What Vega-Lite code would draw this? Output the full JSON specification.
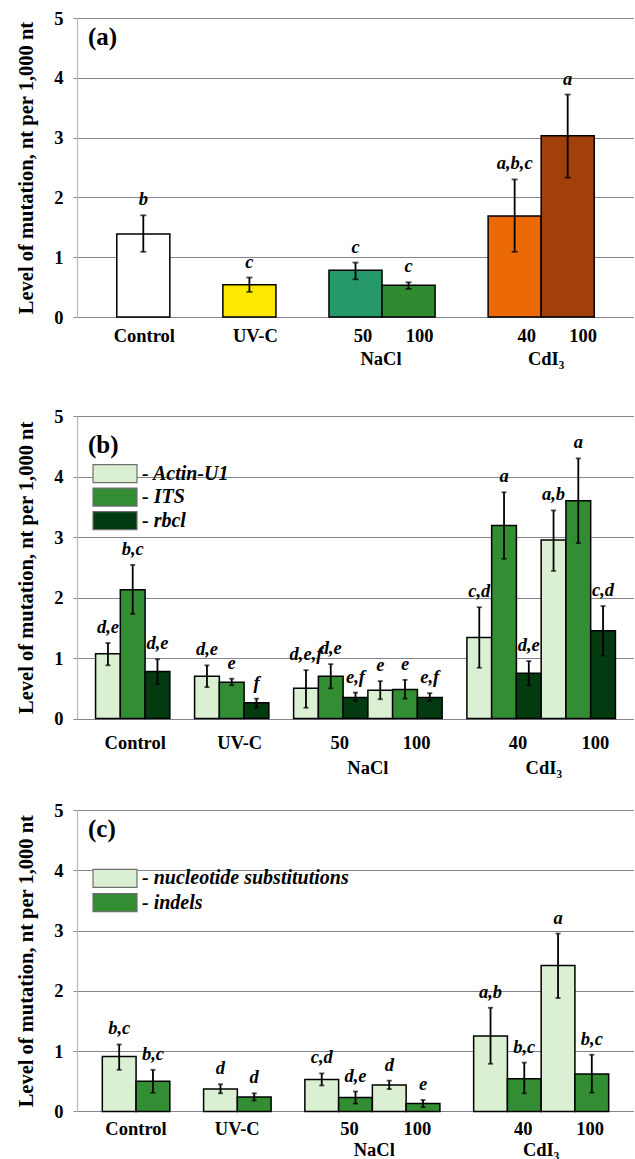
{
  "$schema": "https://vega.github.io/schema/vega-lite/v6.json",
  "padding": {"left": 16, "top": 9, "right": 0, "bottom": 0},
  "spacing": 39,
  "resolve": {"scale": {"fill": "independent"}},
  "config": {
    "font": "Liberation Serif",
    "view": {"stroke": null},
    "axis": {
      "labelFont": "Liberation Serif",
      "titleFont": "Liberation Serif",
      "labelColor": "black",
      "titleColor": "black",
      "labelFontWeight": "bold",
      "titleFontWeight": "bold"
    },
    "axisY": {
      "grid": true,
      "gridColor": "#85858f",
      "gridWidth": 1,
      "domainColor": "#b8b8c0",
      "domainWidth": 1.2,
      "tickColor": "#85858f",
      "tickSize": 4,
      "labelFontSize": 18.5,
      "labelPadding": 10,
      "labelFlush": false,
      "titleFontSize": 20.5,
      "titlePadding": 17
    },
    "axisX": {
      "grid": false,
      "domain": false,
      "ticks": false,
      "tickSize": 0,
      "labelAngle": 0,
      "labelFontSize": 18.5,
      "labelOverlap": false,
      "labelLimit": 0
    },
    "title": {
      "font": "Liberation Serif",
      "fontSize": 25,
      "fontWeight": "bold",
      "color": "black",
      "anchor": "start",
      "frame": "group",
      "orient": "top",
      "baseline": "top",
      "dx": 11
    },
    "legend": {
      "orient": "none",
      "title": null,
      "padding": 0,
      "symbolType": "M-2.2,-0.9H2.2V0.9H-2.2Z",
      "symbolSize": 400,
      "symbolStrokeColor": "#6f6f6f",
      "symbolStrokeWidth": 1.2,
      "symbolOpacity": 1,
      "labelFont": "Liberation Serif",
      "labelFontSize": 20,
      "labelFontStyle": "italic",
      "labelFontWeight": "bold",
      "labelColor": "black",
      "labelOffset": 16,
      "labelLimit": 0
    }
  },
  "vconcat": [
    {
      "title": {"text": "(a)", "offset": -41},
      "width": 557,
      "height": 299,
      "data": {
        "values": [
          {"treatment": "Control", "value": 1.39, "lo": 1.09, "hi": 1.70, "letters": "b"},
          {"treatment": "UV-C", "value": 0.54, "lo": 0.42, "hi": 0.66, "letters": "c"},
          {"treatment": "NaCl 50", "value": 0.78, "lo": 0.63, "hi": 0.91, "letters": "c"},
          {"treatment": "NaCl 100", "value": 0.53, "lo": 0.47, "hi": 0.58, "letters": "c"},
          {"treatment": "CdI₃ 40", "value": 1.69, "lo": 1.09, "hi": 2.30, "letters": "a,b,c"},
          {"treatment": "CdI₃ 100", "value": 3.03, "lo": 2.33, "hi": 3.72, "letters": "a"}
        ]
      },
      "resolve": {"axis": {"x": "independent", "y": "independent"}},
      "layer": [
        {
          "mark": {"type": "bar", "stroke": "black", "strokeWidth": 1.5},
          "encoding": {
            "x": {
              "field": "treatment",
              "type": "nominal",
              "scale": {
                "domain": ["Control", "gap1", "UV-C", "gap2", "NaCl 50", "NaCl 100", "gap3", "CdI₃ 40", "CdI₃ 100"],
                "paddingInner": 0,
                "paddingOuter": 0.75
              },
              "axis": {
                "title": null,
                "labelPadding": 9,
                "labelExpr": "datum.value == 'Control' || datum.value == 'UV-C' ? datum.value : (indexof(datum.value, ' ') > 0 ? split(datum.value, ' ')[1] : '')",
                "labelOffset": {
                  "condition": [
                    {"test": "datum.value == 'UV-C'", "value": 6},
                    {"test": "datum.value == 'NaCl 50'", "value": 7.5},
                    {"test": "datum.value == 'NaCl 100'", "value": 11},
                    {"test": "datum.value == 'CdI₃ 40'", "value": 12},
                    {"test": "datum.value == 'CdI₃ 100'", "value": 15.5}
                  ],
                  "value": 1
                }
              }
            },
            "y": {
              "field": "value",
              "type": "quantitative",
              "scale": {"domain": [0, 5], "nice": false},
              "axis": {"title": "Level of mutation, nt per 1,000 nt", "values": [0, 1, 2, 3, 4, 5], "format": "d"}
            },
            "fill": {
              "field": "treatment",
              "type": "nominal",
              "scale": {
                "domain": ["Control", "UV-C", "NaCl 50", "NaCl 100", "CdI₃ 40", "CdI₃ 100"],
                "range": ["#ffffff", "#ffe800", "#26986a", "#2f8b30", "#ec6a06", "#a1400a"]
              },
              "legend": null
            }
          }
        },
        {
          "mark": {
            "type": "errorbar",
            "rule": {"color": "black", "strokeWidth": 1.8},
            "ticks": {"color": "black", "size": 6, "thickness": 1.8}
          },
          "encoding": {
            "x": {"field": "treatment", "type": "nominal", "axis": null},
            "y": {"field": "lo", "type": "quantitative", "axis": null},
            "y2": {"field": "hi"}
          }
        },
        {
          "mark": {"type": "text", "fontSize": 18.5, "fontStyle": "italic", "fontWeight": "bold", "baseline": "alphabetic", "dy": -10, "color": "black"},
          "encoding": {
            "x": {
              "field": "treatment",
              "type": "nominal",
              "axis": {
                "orient": "bottom",
                "title": null,
                "offset": 23,
                "labelPadding": 9,
                "labelExpr": "datum.value == 'NaCl 50' ? 'NaCl' : (datum.value == 'CdI₃ 40' ? 'CdI₃' : '')",
                "labelOffset": {
                  "condition": {"test": "datum.value == 'CdI₃ 40'", "value": 31.5},
                  "value": 25.5
                }
              }
            },
            "y": {"field": "hi", "type": "quantitative", "axis": null},
            "text": {"field": "letters"}
          }
        }
      ]
    },
    {
      "bounds": "flush",
      "spacing": 91,
      "resolve": {"scale": {"fill": "independent"}},
      "vconcat": [
        {
          "title": {"text": "(b)", "offset": -51},
          "width": 557,
          "height": 302.6,
          "data": {
            "values": [
              {"bar": "Control|Actin-U1", "gene": "Actin-U1", "value": 1.07, "lo": 0.88, "hi": 1.25, "letters": "d,e"},
              {"bar": "Control|ITS", "gene": "ITS", "value": 2.13, "lo": 1.73, "hi": 2.54, "letters": "b,c"},
              {"bar": "Control|rbcl", "gene": "rbcl", "value": 0.78, "lo": 0.57, "hi": 0.98, "letters": "d,e"},
              {"bar": "UV-C|Actin-U1", "gene": "Actin-U1", "value": 0.70, "lo": 0.52, "hi": 0.88, "letters": "d,e"},
              {"bar": "UV-C|ITS", "gene": "ITS", "value": 0.60, "lo": 0.55, "hi": 0.66, "letters": "e"},
              {"bar": "UV-C|rbcl", "gene": "rbcl", "value": 0.26, "lo": 0.18, "hi": 0.33, "letters": "f"},
              {"bar": "NaCl 50|Actin-U1", "gene": "Actin-U1", "value": 0.50, "lo": 0.18, "hi": 0.80, "letters": "d,e,f"},
              {"bar": "NaCl 50|ITS", "gene": "ITS", "value": 0.70, "lo": 0.50, "hi": 0.90, "letters": "d,e"},
              {"bar": "NaCl 50|rbcl", "gene": "rbcl", "value": 0.35, "lo": 0.29, "hi": 0.43, "letters": "e,f"},
              {"bar": "NaCl 100|Actin-U1", "gene": "Actin-U1", "value": 0.47, "lo": 0.32, "hi": 0.62, "letters": "e"},
              {"bar": "NaCl 100|ITS", "gene": "ITS", "value": 0.48, "lo": 0.33, "hi": 0.64, "letters": "e"},
              {"bar": "NaCl 100|rbcl", "gene": "rbcl", "value": 0.35, "lo": 0.29, "hi": 0.42, "letters": "e,f"},
              {"bar": "CdI₃ 40|Actin-U1", "gene": "Actin-U1", "value": 1.34, "lo": 0.84, "hi": 1.84, "letters": "c,d"},
              {"bar": "CdI₃ 40|ITS", "gene": "ITS", "value": 3.19, "lo": 2.64, "hi": 3.74, "letters": "a"},
              {"bar": "CdI₃ 40|rbcl", "gene": "rbcl", "value": 0.75, "lo": 0.55, "hi": 0.95, "letters": "d,e"},
              {"bar": "CdI₃ 100|Actin-U1", "gene": "Actin-U1", "value": 2.95, "lo": 2.44, "hi": 3.44, "letters": "a,b"},
              {"bar": "CdI₃ 100|ITS", "gene": "ITS", "value": 3.60, "lo": 2.90, "hi": 4.30, "letters": "a"},
              {"bar": "CdI₃ 100|rbcl", "gene": "rbcl", "value": 1.45, "lo": 1.04, "hi": 1.86, "letters": "c,d"}
            ]
          },
          "resolve": {"axis": {"x": "independent", "y": "independent"}},
          "layer": [
            {
              "mark": {"type": "bar", "stroke": "black", "strokeWidth": 1.5},
              "encoding": {
                "x": {
                  "field": "bar",
                  "type": "nominal",
                  "scale": {
                    "domain": [
                      "Control|Actin-U1", "Control|ITS", "Control|rbcl", "gap1",
                      "UV-C|Actin-U1", "UV-C|ITS", "UV-C|rbcl", "gap2",
                      "NaCl 50|Actin-U1", "NaCl 50|ITS", "NaCl 50|rbcl",
                      "NaCl 100|Actin-U1", "NaCl 100|ITS", "NaCl 100|rbcl", "gap3",
                      "CdI₃ 40|Actin-U1", "CdI₃ 40|ITS", "CdI₃ 40|rbcl",
                      "CdI₃ 100|Actin-U1", "CdI₃ 100|ITS", "CdI₃ 100|rbcl"
                    ],
                    "paddingInner": 0,
                    "paddingOuter": 0.75
                  },
                  "axis": {
                    "title": null,
                    "labelPadding": 15,
                    "labelExpr": "indexof(datum.value, '|ITS') > 0 ? replace(replace(replace(datum.value, '|ITS', ''), 'NaCl ', ''), 'CdI₃ ', '') : ''",
                    "labelOffset": {
                      "condition": [
                        {"test": "datum.value == 'UV-C|ITS'", "value": 8},
                        {"test": "datum.value == 'NaCl 50|ITS'", "value": 9},
                        {"test": "datum.value == 'NaCl 100|ITS'", "value": 11.5},
                        {"test": "datum.value == 'CdI₃ 40|ITS'", "value": 14},
                        {"test": "datum.value == 'CdI₃ 100|ITS'", "value": 17}
                      ],
                      "value": 2.5
                    }
                  }
                },
                "y": {
                  "field": "value",
                  "type": "quantitative",
                  "scale": {"domain": [0, 5], "nice": false},
                  "axis": {"title": "Level of mutation, nt per 1,000 nt", "values": [0, 1, 2, 3, 4, 5], "format": "d"}
                },
                "fill": {
                  "field": "gene",
                  "type": "nominal",
                  "scale": {
                    "domain": ["Actin-U1", "ITS", "rbcl"],
                    "range": ["#dbefd3", "#338e33", "#033a10"]
                  },
                  "legend": {"legendX": 27, "legendY": 46.6, "rowPadding": -0.5, "labelExpr": "'- ' + datum.label"}
                }
              }
            },
            {
              "mark": {
                "type": "errorbar",
                "rule": {"color": "black", "strokeWidth": 1.8},
                "ticks": {"color": "black", "size": 5, "thickness": 1.8}
              },
              "encoding": {
                "x": {"field": "bar", "type": "nominal", "axis": null},
                "y": {"field": "lo", "type": "quantitative", "axis": null},
                "y2": {"field": "hi"}
              }
            },
            {
              "mark": {"type": "text", "fontSize": 18.5, "fontStyle": "italic", "fontWeight": "bold", "baseline": "alphabetic", "dy": -10, "color": "black"},
              "encoding": {
                "x": {
                  "field": "bar",
                  "type": "nominal",
                  "axis": {
                    "orient": "bottom",
                    "title": null,
                    "offset": 25,
                    "labelPadding": 15,
                    "labelExpr": "datum.value == 'NaCl 50|rbcl' ? 'NaCl' : (datum.value == 'CdI₃ 40|rbcl' ? 'CdI₃' : '')",
                    "labelOffset": {
                      "condition": {"test": "datum.value == 'CdI₃ 40|rbcl'", "value": 15},
                      "value": 12.4
                    }
                  }
                },
                "y": {"field": "hi", "type": "quantitative", "axis": null},
                "text": {"field": "letters"}
              }
            }
          ]
        },
        {
          "title": {"text": "(c)", "offset": -41},
          "width": 557,
          "height": 301.4,
          "data": {
            "values": [
              {"bar": "Control|nucleotide substitutions", "type": "nucleotide substitutions", "value": 0.91, "lo": 0.69, "hi": 1.11, "letters": "b,c"},
              {"bar": "Control|indels", "type": "indels", "value": 0.50, "lo": 0.31, "hi": 0.69, "letters": "b,c"},
              {"bar": "UV-C|nucleotide substitutions", "type": "nucleotide substitutions", "value": 0.37, "lo": 0.30, "hi": 0.45, "letters": "d"},
              {"bar": "UV-C|indels", "type": "indels", "value": 0.24, "lo": 0.18, "hi": 0.30, "letters": "d"},
              {"bar": "NaCl 50|nucleotide substitutions", "type": "nucleotide substitutions", "value": 0.53, "lo": 0.43, "hi": 0.63, "letters": "c,d"},
              {"bar": "NaCl 50|indels", "type": "indels", "value": 0.23, "lo": 0.13, "hi": 0.33, "letters": "d,e"},
              {"bar": "NaCl 100|nucleotide substitutions", "type": "nucleotide substitutions", "value": 0.44, "lo": 0.37, "hi": 0.51, "letters": "d"},
              {"bar": "NaCl 100|indels", "type": "indels", "value": 0.13, "lo": 0.07, "hi": 0.19, "letters": "e"},
              {"bar": "CdI₃ 40|nucleotide substitutions", "type": "nucleotide substitutions", "value": 1.25, "lo": 0.79, "hi": 1.72, "letters": "a,b"},
              {"bar": "CdI₃ 40|indels", "type": "indels", "value": 0.54, "lo": 0.30, "hi": 0.81, "letters": "b,c"},
              {"bar": "CdI₃ 100|nucleotide substitutions", "type": "nucleotide substitutions", "value": 2.42, "lo": 1.88, "hi": 2.95, "letters": "a"},
              {"bar": "CdI₃ 100|indels", "type": "indels", "value": 0.62, "lo": 0.31, "hi": 0.94, "letters": "b,c"}
            ]
          },
          "resolve": {"axis": {"x": "independent", "y": "independent"}},
          "layer": [
            {
              "mark": {"type": "bar", "stroke": "black", "strokeWidth": 1.5},
              "encoding": {
                "x": {
                  "field": "bar",
                  "type": "nominal",
                  "scale": {
                    "domain": [
                      "Control|nucleotide substitutions", "Control|indels", "gap1",
                      "UV-C|nucleotide substitutions", "UV-C|indels", "gap2",
                      "NaCl 50|nucleotide substitutions", "NaCl 50|indels",
                      "NaCl 100|nucleotide substitutions", "NaCl 100|indels", "gap3",
                      "CdI₃ 40|nucleotide substitutions", "CdI₃ 40|indels",
                      "CdI₃ 100|nucleotide substitutions", "CdI₃ 100|indels"
                    ],
                    "paddingInner": 0,
                    "paddingOuter": 0.75
                  },
                  "axis": {
                    "title": null,
                    "labelPadding": 8,
                    "labelExpr": "indexof(datum.value, '|nucleotide') > 0 ? replace(replace(split(datum.value, '|')[0], 'NaCl ', ''), 'CdI₃ ', '') : ''",
                    "labelOffset": {
                      "condition": [
                        {"test": "datum.value == 'NaCl 50|nucleotide substitutions'", "value": 27.8},
                        {"test": "datum.value == 'NaCl 100|nucleotide substitutions'", "value": 28.2},
                        {"test": "datum.value == 'CdI₃ 40|nucleotide substitutions'", "value": 32.6},
                        {"test": "datum.value == 'CdI₃ 100|nucleotide substitutions'", "value": 32.2}
                      ],
                      "value": 16.8
                    }
                  }
                },
                "y": {
                  "field": "value",
                  "type": "quantitative",
                  "scale": {"domain": [0, 5], "nice": false},
                  "axis": {"title": "Level of mutation, nt per 1,000 nt", "values": [0, 1, 2, 3, 4, 5], "format": "d"}
                },
                "fill": {
                  "field": "type",
                  "type": "nominal",
                  "scale": {
                    "domain": ["nucleotide substitutions", "indels"],
                    "range": ["#dbefd3", "#338e33"]
                  },
                  "legend": {"legendX": 27, "legendY": 57.4, "rowPadding": 0.2, "labelExpr": "'- ' + datum.label"}
                }
              }
            },
            {
              "mark": {
                "type": "errorbar",
                "rule": {"color": "black", "strokeWidth": 1.8},
                "ticks": {"color": "black", "size": 5, "thickness": 1.8}
              },
              "encoding": {
                "x": {"field": "bar", "type": "nominal", "axis": null},
                "y": {"field": "lo", "type": "quantitative", "axis": null},
                "y2": {"field": "hi"}
              }
            },
            {
              "mark": {"type": "text", "fontSize": 18.5, "fontStyle": "italic", "fontWeight": "bold", "baseline": "alphabetic", "dy": -10, "color": "black"},
              "encoding": {
                "x": {
                  "field": "bar",
                  "type": "nominal",
                  "axis": {
                    "orient": "bottom",
                    "title": null,
                    "offset": 21,
                    "labelPadding": 8,
                    "labelExpr": "datum.value == 'NaCl 50|indels' ? 'NaCl' : (datum.value == 'CdI₃ 40|indels' ? 'CdI₃' : '')",
                    "labelOffset": {
                      "condition": {"test": "datum.value == 'NaCl 50|indels'", "value": 18.8},
                      "value": 16.8
                    }
                  }
                },
                "y": {"field": "hi", "type": "quantitative", "axis": null},
                "text": {"field": "letters"}
              }
            }
          ]
        }
      ]
    }
  ]
}
